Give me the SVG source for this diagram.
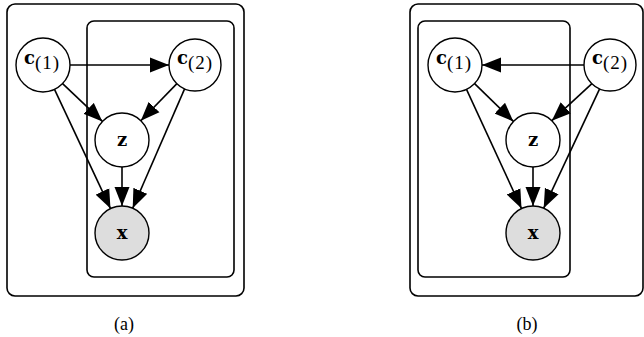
<svg xmlns="http://www.w3.org/2000/svg" width="644" height="337" viewBox="0 0 644 337">
<defs>
<marker id="ah" markerUnits="userSpaceOnUse" markerWidth="20" markerHeight="16" viewBox="0 0 20 16" refX="19" refY="8" orient="auto">
<path d="M0,0.5 L19,8 L0,15.5 Z" fill="#000"/>
</marker>
<style>
.plate{fill:none;stroke:#000;stroke-width:1.6}
.node{fill:#fff;stroke:#000;stroke-width:1.4}
.obs{fill:#dddddd;stroke:#000;stroke-width:1.4}
.edge{stroke:#000;stroke-width:1.6;fill:none;marker-end:url(#ah)}
.lbl{font-family:"Liberation Serif","DejaVu Serif",serif;fill:#000}
.b{font-family:"DejaVu Serif",serif;font-weight:bold;font-size:18px}
.s{font-family:"Liberation Serif",serif;font-size:19px;letter-spacing:1px}
.cap{font-family:"Liberation Serif",serif;font-size:18px;fill:#000}
</style>
</defs>
<!-- (a) -->
<g id="a-plates">
<rect class="plate" x="7" y="4" width="237" height="292" rx="8"/>
<rect class="plate" x="87" y="21" width="147" height="256" rx="7"/>
</g>
<g id="a-edges">
<line class="edge" x1="70" y1="65" x2="169" y2="65"/>
<line class="edge" x1="62.6" y1="83.6" x2="102.4" y2="121.4"/>
<line class="edge" x1="54.5" y1="89.4" x2="110.5" y2="208.6"/>
<line class="edge" x1="176.9" y1="83.6" x2="140.8" y2="120.7"/>
<line class="edge" x1="184.6" y1="88.9" x2="132.7" y2="208.2"/>
<line class="edge" x1="122" y1="167" x2="122" y2="206"/>
</g>
<g id="a-c1"><circle class="node" cx="43" cy="65" r="27"/><text class="lbl" x="42" y="64" text-anchor="middle"><tspan class="b">c</tspan><tspan class="s" dy="5">(1)</tspan></text></g>
<g id="a-c2"><circle class="node" cx="195" cy="65" r="26"/><text class="lbl" x="195" y="64" text-anchor="middle"><tspan class="b">c</tspan><tspan class="s" dy="5">(2)</tspan></text></g>
<g id="a-z"><circle class="node" cx="122" cy="140" r="27"/><text class="lbl b" x="122" y="146" text-anchor="middle">z</text></g>
<g id="a-x"><circle class="obs" cx="122" cy="233" r="27"/><text class="lbl b" x="122" y="239" text-anchor="middle">x</text></g>
<text class="cap" x="124" y="330" text-anchor="middle">(a)</text>
<!-- (b) -->
<g id="b-plates">
<rect class="plate" x="410" y="4" width="233" height="292" rx="8"/>
<rect class="plate" x="418" y="21" width="152" height="256" rx="7"/>
</g>
<g id="b-edges">
<line class="edge" x1="584" y1="65" x2="482" y2="65"/>
<line class="edge" x1="474.6" y1="83.6" x2="513.4" y2="121.4"/>
<line class="edge" x1="466.5" y1="89.4" x2="521.5" y2="208.6"/>
<line class="edge" x1="591.9" y1="83.6" x2="551.8" y2="120.7"/>
<line class="edge" x1="599.6" y1="88.9" x2="543.7" y2="208.2"/>
<line class="edge" x1="533" y1="167" x2="533" y2="206"/>
</g>
<g id="b-c1"><circle class="node" cx="455" cy="65" r="27"/><text class="lbl" x="454" y="64" text-anchor="middle"><tspan class="b">c</tspan><tspan class="s" dy="5">(1)</tspan></text></g>
<g id="b-c2"><circle class="node" cx="610" cy="65" r="26"/><text class="lbl" x="610" y="64" text-anchor="middle"><tspan class="b">c</tspan><tspan class="s" dy="5">(2)</tspan></text></g>
<g id="b-z"><circle class="node" cx="533" cy="140" r="27"/><text class="lbl b" x="533" y="146" text-anchor="middle">z</text></g>
<g id="b-x"><circle class="obs" cx="533" cy="233" r="27"/><text class="lbl b" x="533" y="239" text-anchor="middle">x</text></g>
<text class="cap" x="527" y="330" text-anchor="middle">(b)</text>
</svg>
